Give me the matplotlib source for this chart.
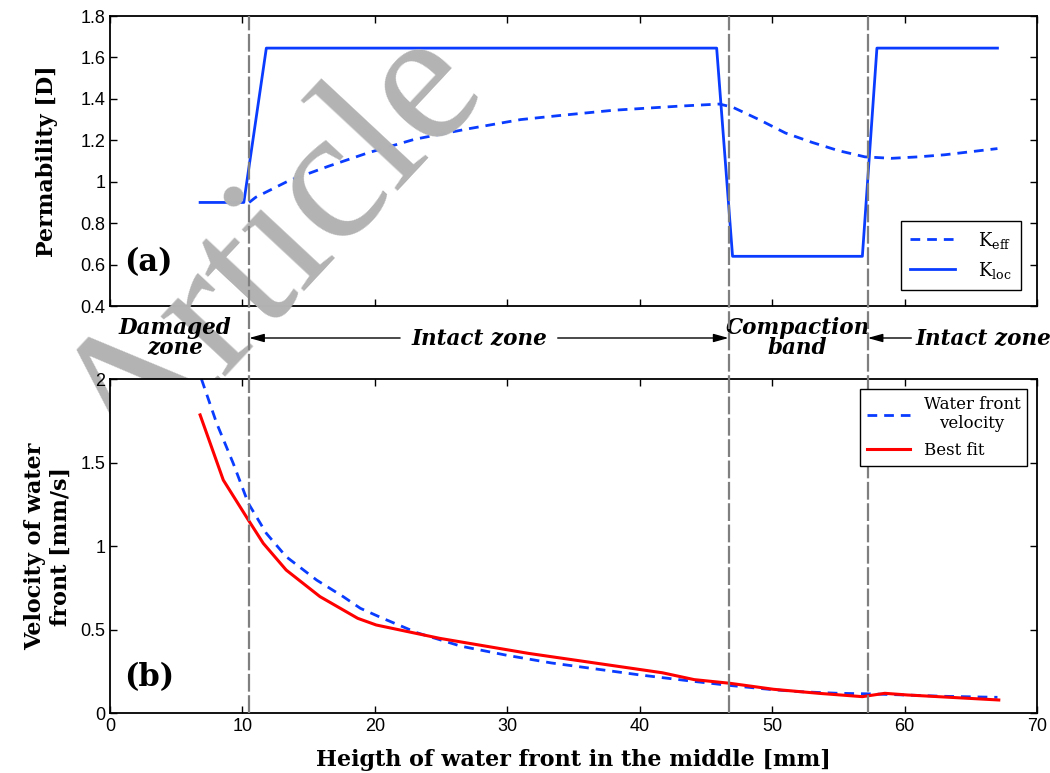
import matplotlib
matplotlib.use("Agg")
import matplotlib.pyplot as plt
import matplotlib.ticker as mticker
from matplotlib.transforms import blended_transform_factory

# ── data ────────────────────────────────────────────────────────────────────
# (a) local permeability profile (piecewise) and effective permeability
kloc_x = [6.8, 10.1, 11.8, 45.8, 47.0, 56.8, 57.9, 67.0]
kloc_y = [0.90, 0.90, 1.645, 1.645, 0.64, 0.64, 1.645, 1.645]

keff_x = [10.5, 11.0, 13.5, 16.5, 19.5, 23.0, 27.0, 31.0, 34.0, 38.0, 43.0,
          46.0, 47.0, 49.0, 51.0, 53.0, 55.0, 57.0, 59.0, 61.0, 63.0, 65.0, 67.0]
keff_y = [0.90, 0.925, 1.005, 1.075, 1.14, 1.205, 1.255, 1.30, 1.32, 1.345, 1.365,
          1.375, 1.36, 1.30, 1.235, 1.19, 1.15, 1.12, 1.113, 1.12, 1.13, 1.145, 1.16]

# (b) water front velocity and its fit
vel_x = [6.9, 8.05, 9.3, 10.44, 11.8, 13.3, 15.6, 17.6, 18.9, 20.5, 23.2, 26.5,
         30.0, 33.3, 40.0, 44.0, 46.8, 50.0, 52.0, 55.0, 57.2, 60.0, 63.0, 67.0]
vel_y = [2.0, 1.735, 1.495, 1.256, 1.076, 0.936, 0.796, 0.697, 0.627, 0.57, 0.48, 0.40,
         0.345, 0.30, 0.228, 0.19, 0.165, 0.14, 0.128, 0.118, 0.115, 0.108, 0.10, 0.094]

fit_x = [6.8, 8.55, 10.44, 11.57, 13.3, 15.85, 18.7, 20.1, 24.9, 31.6, 41.7, 44.1,
         46.8, 50.1, 53.5, 56.8, 58.5, 60.2, 67.1]
fit_y = [1.785, 1.395, 1.156, 1.016, 0.856, 0.697, 0.567, 0.527, 0.447, 0.357, 0.241,
         0.200, 0.178, 0.142, 0.118, 0.098, 0.118, 0.108, 0.078]

# zone boundaries [mm]
bounds = [10.5, 46.7, 57.2]

BLUE = "#0a3cff"
RED = "#ff0000"
SERIF = ["DejaVu Serif"]
SANS = ["Liberation Sans", "DejaVu Sans"]

plt.rcParams["mathtext.fontset"] = "dejavuserif"

fig = plt.figure(figsize=(10.5, 7.73), dpi=100)
fig.patch.set_facecolor("white")

# watermark: sits behind the upper panel content, hidden by the lower panel
fig.text(129 / 1050, 1 - 478 / 773, "Article", rotation=47,
         rotation_mode="anchor", ha="left", va="baseline", fontsize=137,
         family=["Liberation Serif"], color="#b3b3b3", zorder=0)

ax1 = fig.add_axes([0.1048, 0.6041, 0.883, 0.3752])
ax2 = fig.add_axes([0.1048, 0.0776, 0.883, 0.4321])
ax1.set_facecolor("none")
ax2.set_facecolor("white")
ax2.set_zorder(2)
for ax in (ax1, ax2):
    ax.set_xlim(0, 70)
    ax.tick_params(direction="in", top=True, right=True, length=5, width=1,
                   labelsize=13)
    for s in ax.spines.values():
        s.set_linewidth(1.3)
    ax.yaxis.set_major_formatter(mticker.FormatStrFormatter("%g"))

# ── (a) permeability ────────────────────────────────────────────────────────
ax1.plot(keff_x, keff_y, color=BLUE, lw=2.0, dashes=(3.5, 2.5), label=r"K$_{\mathrm{eff}}$")
ax1.plot(kloc_x, kloc_y, color=BLUE, lw=2.0, label=r"K$_{\mathrm{loc}}$")
ax1.set_ylim(0.4, 1.8)
ax1.set_yticks([0.4, 0.6, 0.8, 1.0, 1.2, 1.4, 1.6, 1.8])
ax1.set_xticks(range(0, 71, 10))
ax1.tick_params(labelbottom=False)
ax1.set_ylabel("Permability [D]", family=SERIF, fontweight="bold", fontsize=16,
               labelpad=16)
ax1.text(0.015, 0.12, "(a)", transform=ax1.transAxes, family=SERIF,
         fontweight="bold", fontsize=22)
leg1 = ax1.legend(loc="lower right", fancybox=False, edgecolor="black",
                  framealpha=1, handlelength=2.5, handletextpad=1.3,
                  prop={"family": SERIF, "size": 13}, borderaxespad=0.9,
                  borderpad=0.5)
leg1.get_frame().set_linewidth(1.0)

# ── (b) velocity ────────────────────────────────────────────────────────────
ax2.plot(vel_x, vel_y, color=BLUE, lw=2.0, dashes=(3.5, 2.5), label="Water front\nvelocity")
ax2.plot(fit_x, fit_y, color=RED, lw=2.2, label="Best fit")
ax2.set_ylim(0, 2)
ax2.set_yticks([0, 0.5, 1, 1.5, 2])
ax2.set_xticks(range(0, 71, 10))
ax2.set_ylabel("Velocity of water\nfront [mm/s]", family=SERIF, fontweight="bold",
               fontsize=16, labelpad=6)
ax2.set_xlabel("Heigth of water front in the middle [mm]", family=SERIF,
               fontweight="bold", fontsize=16, labelpad=10)
ax2.text(0.015, 0.08, "(b)", transform=ax2.transAxes, family=SERIF,
         fontweight="bold", fontsize=22)
leg2 = ax2.legend(loc="upper right", fancybox=False, edgecolor="black",
                  framealpha=1, handlelength=2.6, prop={"family": SERIF, "size": 12},
                  borderaxespad=0.6, labelspacing=0.6)
leg2.get_frame().set_linewidth(1.0)
for t in leg2.get_texts():
    t.set_multialignment("center")

for ax in (ax1, ax2):
    for lab in ax.get_xticklabels() + ax.get_yticklabels():
        lab.set_family(SANS)

# ── zone boundaries across both panels ──────────────────────────────────────
trans = blended_transform_factory(ax2.transData, fig.transFigure)
for b in bounds:
    ax2.plot([b, b], [0.0776, 0.9793], transform=trans, color="#7f7f7f",
             lw=1.6, dashes=(8, 1.6), clip_on=False, zorder=5)

# zone labels and arrows in the gap
ygap = 1 - 338 / 773
zone_kw = dict(family=SERIF, fontweight="bold", style="italic", fontsize=15.5,
               ha="center", va="center", transform=trans)
ax2.text(4.9, ygap, "Damaged\nzone", linespacing=0.85, **zone_kw)
ax2.text(27.9, ygap, "Intact zone", **zone_kw)
ax2.text(51.9, ygap, "Compaction\nband", linespacing=0.85, **zone_kw)
ax2.text(65.9, ygap, "Intact zone", **zone_kw)

arrow_kw = dict(arrowstyle="-|>,head_length=0.9,head_width=0.25", color="black",
                lw=1.0, shrinkA=0, shrinkB=0)
coords = ("data", "figure fraction")
ax2.annotate("", xy=(10.5, ygap), xytext=(21.9, ygap), xycoords=coords,
             textcoords=coords, arrowprops=arrow_kw, annotation_clip=False)
ax2.annotate("", xy=(46.7, ygap), xytext=(33.8, ygap), xycoords=coords,
             textcoords=coords, arrowprops=arrow_kw, annotation_clip=False)
ax2.annotate("", xy=(57.2, ygap), xytext=(60.5, ygap), xycoords=coords,
             textcoords=coords, arrowprops=arrow_kw, annotation_clip=False)

fig.savefig("out.png", dpi=100)
